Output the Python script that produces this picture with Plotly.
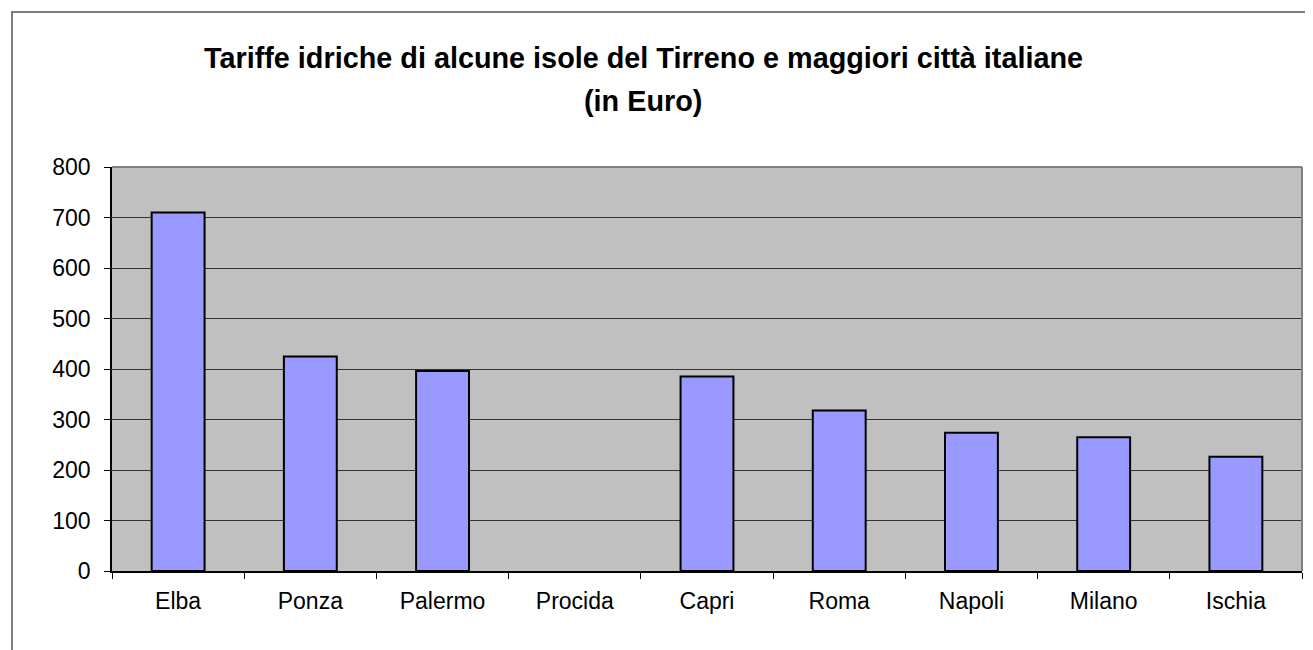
import plotly.graph_objects as go

categories = ["Elba", "Ponza", "Palermo", "Procida", "Capri", "Roma", "Napoli", "Milano", "Ischia"]
values = [710, 425, 396, None, 385, 318, 274, 265, 226]
y_ticks = [0, 100, 200, 300, 400, 500, 600, 700, 800]
title_line1 = "Tariffe idriche di alcune isole del Tirreno e maggiori città italiane"
title_line2 = "(in Euro)"

# page offset of the figure inside the browser (body margin)
OFF = 8
W, H = 1305, 642
L, T = 112 - OFF, 167 - OFF
R = W - (1302 - OFF)
B = H - (571 - OFF)
pw, ph = W - L - R, H - T - B

def px_x(xpage):
    return (xpage - OFF - L) / pw

def px_y(ypage):
    return (H - B - (ypage - OFF)) / ph

font_family = "Liberation Sans, Arial, sans-serif"

fig = go.Figure()
fig.add_trace(go.Bar(
    x=categories, y=values,
    marker=dict(color="#9999FF", line=dict(color="#000000", width=2)),
    width=0.4,
))

fig.update_layout(
    width=W, height=H,
    margin=dict(l=L, r=R, t=T, b=B, pad=0),
    paper_bgcolor="white",
    plot_bgcolor="#C0C0C0",
    showlegend=False,
    font=dict(family=font_family, color="black", size=23),
    xaxis=dict(
        type="category", tickson="boundaries", ticks="outside", ticklen=6,
        tickcolor="black", tickwidth=1, showgrid=False,
        showline=True, linecolor="black", linewidth=1.5,
        tickfont=dict(size=23), range=[-0.5, 8.5], ticklabelstandoff=9,
    ),
    yaxis=dict(
        range=[0, 800], tickvals=y_ticks, ticks="outside", ticklen=6,
        tickcolor="black", tickwidth=1,
        showgrid=True, gridcolor="#333333", gridwidth=1,
        showline=True, linecolor="black", linewidth=1.5,
        zeroline=False, tickfont=dict(size=23), ticklabelstandoff=9,
    ),
    shapes=[
        dict(type="line", xref="paper", yref="paper", x0=0, x1=1, y0=1, y1=1,
             line=dict(color="#808080", width=2), layer="above"),
        dict(type="line", xref="paper", yref="paper", x0=1, x1=1, y0=0, y1=1,
             line=dict(color="#808080", width=2), layer="above"),
        dict(type="rect", xref="paper", yref="paper",
             x0=px_x(12), x1=px_x(1340), y0=px_y(12), y1=px_y(680),
             line=dict(color="#555555", width=1.5), fillcolor="rgba(0,0,0,0)"),
    ],
    annotations=[
        dict(text="<b>" + title_line1 + "</b>", xref="paper", yref="paper",
             x=px_x(643), y=px_y(58), xanchor="center", yanchor="middle",
             showarrow=False, font=dict(size=28.8, family=font_family, color="black")),
        dict(text="<b>" + title_line2 + "</b>", xref="paper", yref="paper",
             x=px_x(643), y=px_y(101), xanchor="center", yanchor="middle",
             showarrow=False, font=dict(size=28.8, family=font_family, color="black")),
    ],
)

fig.write_html("out.html")
